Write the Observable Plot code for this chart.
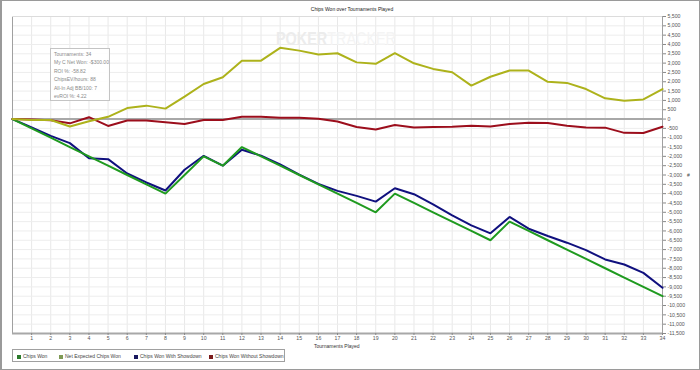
<!DOCTYPE html>
<html>
<head>
<meta charset="utf-8">
<script src="https://cdn.jsdelivr.net/npm/d3@7"></script>
<script src="https://cdn.jsdelivr.net/npm/@observablehq/plot@0.6"></script>
<style>
  html, body { margin: 0; padding: 0; background: #fff; }
  #wrap { position: relative; width: 700px; height: 370px; overflow: hidden; font-family: "Liberation Sans", Arial, sans-serif; }
  #wrap svg { position: absolute; left: 0; top: 0; }
  .ov { position: absolute; font-size: 5px; color: #222; white-space: nowrap; line-height: 6px; }
  #border { position: absolute; left: 0; top: 0; width: 700px; height: 370px; box-sizing: border-box; border: 1px solid #9a9a9a; border-left-width: 2px; pointer-events: none; }
  #tip { position: absolute; left: 50px; top: 48px; width: 60px; height: 53px; border: 1px solid #c4c4c4; background: rgba(255,255,255,0.85); font-size: 5px; color: #8a8a8a; line-height: 8.4px; padding: 1px 0 0 3px; box-sizing: border-box; white-space: nowrap; overflow: hidden; }
  #legend { position: absolute; left: 12px; top: 349px; width: 273px; height: 13px; border: 1px solid #a0a0a0; box-sizing: border-box; font-size: 5px; color: #444; }
  #legend span.it { position: absolute; top: 3px; white-space: nowrap; line-height: 6px; }
  #legend i { display: inline-block; width: 4px; height: 4px; margin-right: 2px; vertical-align: -0.5px; }
  #wm { position: absolute; left: 276px; top: 29px; font-size: 18px; line-height: 20px; font-weight: bold; letter-spacing: 0px; color: #ececec; font-family: "Liberation Sans", Arial, sans-serif; transform: scaleX(0.8); transform-origin: 0 0; white-space: nowrap; }
  #wm b { color: #f4f4f4; font-weight: normal; }
</style>
</head>
<body>
<div id="wrap"></div>
<script>
// ---- data ----
const tournaments = d3.range(0, 35);
const chipsWon = [0,-500,-1000,-1500,-2000,-2500,-3000,-3500,-4000,-3000,-2000,-2500,-1500,-2000,-2500,-3000,-3500,-4000,-4500,-5000,-4000,-4500,-5000,-5500,-6000,-6500,-5500,-6000,-6500,-7000,-7500,-8000,-8500,-9000,-9500];
const netExpected = [0,-50,-50,-400,-120,120,590,720,560,1200,1880,2240,3130,3130,3820,3670,3460,3530,3040,2960,3530,2990,2690,2510,1790,2270,2600,2600,2000,1940,1610,1110,985,1050,1610];
const withShowdown = [0,-450,-900,-1290,-2100,-2150,-2920,-3400,-3830,-2720,-1970,-2500,-1650,-1960,-2430,-2980,-3480,-3850,-4120,-4430,-3710,-4030,-4570,-5160,-5700,-6130,-5250,-5880,-6270,-6630,-7030,-7530,-7800,-8250,-9050];
const withoutShowdown = [0,-20,-60,-230,100,-370,-80,-80,-170,-270,-55,-55,120,120,70,70,15,-130,-430,-560,-320,-450,-430,-410,-360,-400,-270,-200,-215,-360,-450,-460,-740,-750,-410];
const seriesNames = ["Chips Won", "Net Expected Chips Won", "Chips Won With Showdown", "Chips Won Without Showdown"];
const xTicks = d3.range(1, 35);
const yTicks = d3.range(-11500, 5501, 500);
const tipLines = ["Tournaments: 34", "My C Net Won: -$300.00", "ROI %: -58.82", "ChipsEV/hours: 88", "All-In Adj BB/100: 7", "evROI %: 4.22"];
const titleText = "Chips Won over Tournaments Played";
const xLabel = "Tournaments Played";
const yLabel = "#";

// ---- build ----
const lineColors = ["#1f9a1f", "#adb21b", "#10107e", "#9c0e1c"];
const legendColors = ["#2b7a2b", "#7f9a55", "#18185e", "#7a1c1c"];
const series = [chipsWon, netExpected, withShowdown, withoutShowdown];
const rows = (arr) => tournaments.map((t, i) => ({t, v: arr[i]}));
const fmt = d => (d < 0 ? "-" : "") + d3.format(",")(Math.abs(d));

const drawOrder = [2, 0, 3, 1];

const chart = Plot.plot({
  width: 700,
  height: 370,
  marginLeft: 12,
  marginRight: 38,
  marginTop: 16,
  marginBottom: 37,
  style: { fontFamily: "Liberation Sans, Arial, sans-serif", fontSize: "5.2px", color: "#333", background: "transparent" },
  x: { domain: [0, 34] },
  y: { domain: [-11500, 5500] },
  marks: [
    Plot.gridX(xTicks, { stroke: "#e8e8e8", strokeOpacity: 1 }),
    Plot.gridY(yTicks, { stroke: "#ededed", strokeOpacity: 1 }),
    Plot.ruleX([0], { stroke: "#a0a0a0", strokeWidth: 1 }),
    Plot.ruleY([5500], { stroke: "#dcdcdc", strokeWidth: 1 }),
    Plot.ruleY([0], { stroke: "#a8a8a8", strokeWidth: 2 }),
    Plot.ruleY([-11500], { stroke: "#a8a8a8", strokeWidth: 2 }),
    Plot.ruleX([34], { stroke: "#a0a0a0", strokeWidth: 1 }),
    Plot.axisY({ anchor: "right", ticks: yTicks, tickFormat: fmt, tickSize: 3, tickPadding: 2, label: null, stroke: "#888", fill: "#555" }),
    Plot.axisX({ ticks: xTicks, tickFormat: d => String(d), tickSize: 2, tickPadding: 1, label: null, stroke: "#888", fill: "#555" }),
    ...drawOrder.map(k => Plot.line(rows(series[k]), { x: "t", y: "v", stroke: lineColors[k], strokeWidth: 2, strokeLinejoin: "miter" }))
  ]
});

const wrap = document.getElementById("wrap");
wrap.appendChild(chart);

function ov(text, left, top, extra) {
  const d = document.createElement("div");
  d.className = "ov";
  d.textContent = text;
  d.style.left = left + "px";
  d.style.top = top + "px";
  if (extra) Object.assign(d.style, extra);
  wrap.appendChild(d);
  return d;
}

// watermark
const wm = document.createElement("div");
wm.id = "wm";
wm.innerHTML = "POKER<b>TRACKER</b>";
wrap.appendChild(wm);

// title and labels
ov(titleText, 0, 6, { width: "700px", textAlign: "center", left: "2px", color: "#222" });
ov(xLabel, 314, 343, { color: "#333" });
ov(yLabel, 687, 172, { color: "#444" });

// tooltip box
const tip = document.createElement("div");
tip.id = "tip";
tip.innerHTML = tipLines.map(s => `<div>${s}</div>`).join("");
wrap.appendChild(tip);

// legend
const lg = document.createElement("div");
lg.id = "legend";
const lgX = [4, 46, 121, 196];
seriesNames.forEach((n, k) => {
  const s = document.createElement("span");
  s.className = "it";
  s.style.left = lgX[k] + "px";
  s.innerHTML = `<i style="background:${legendColors[k]}"></i>${n}`;
  lg.appendChild(s);
});
wrap.appendChild(lg);

const b = document.createElement("div");
b.id = "border";
wrap.appendChild(b);
</script>
</body>
</html>
